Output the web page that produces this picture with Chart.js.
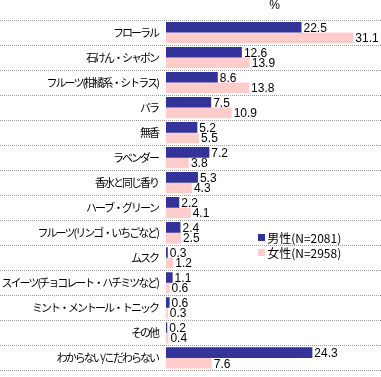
<!DOCTYPE html>
<html><head><meta charset="utf-8">
<script src="https://cdn.jsdelivr.net/npm/chart.js@4"></script>
<style>html,body{margin:0;padding:0;background:#fff}#wrap{width:381px;height:377px}</style>
</head><body><div id="wrap"><canvas id="c" width="381" height="377"></canvas></div>
<script>
const categories = ["フローラル","石けん・シャボン","フルーツ(柑橘系・シトラス)","バラ","無香","ラベンダー","香水と同じ香り","ハーブ・グリーン","フルーツ(リンゴ・いちごなど)","ムスク","スイーツ(チョコレート・ハチミツなど)","ミント・メントール・トニック","その他","わからない/こだわらない"];
const maleValues = [22.5,12.6,8.6,7.5,5.2,7.2,5.3,2.2,2.4,0.3,1.1,0.6,0.2,24.3];
const femaleValues = [31.1,13.9,13.8,10.9,5.5,3.8,4.3,4.1,2.5,1.2,0.6,0.3,0.4,7.6];
const seriesLabels = ["男性(N=2081)","女性(N=2958)"];
const unitLabel = "%";

const JP = '"Noto Sans CJK JP", sans-serif';

const spacingPlugin = {
  id: 'spacing',
  beforeDraw(chart){ chart.ctx.letterSpacing = '-2px'; },
  beforeDatasetsDraw(chart){ chart.ctx.letterSpacing = '0px'; }
};

const separatorPlugin = {
  id: 'separators',
  beforeDatasetsDraw(chart){
    const ctx = chart.ctx, y = chart.scales.y;
    ctx.save();
    ctx.strokeStyle = '#999999';
    ctx.lineWidth = 1;
    ctx.setLineDash([1,1]);
    for (let i = 0; i <= categories.length; i++) {
      const py = Math.round(y.getPixelForValue(i - 0.5)) + 0.5;
      ctx.beginPath(); ctx.moveTo(0, py); ctx.lineTo(chart.width, py); ctx.stroke();
    }
    ctx.restore();
  }
};

const valueLabelPlugin = {
  id: 'valueLabels',
  afterDatasetsDraw(chart){
    const ctx = chart.ctx;
    ctx.save();
    ctx.letterSpacing = '0px';
    ctx.font = '12px "Liberation Sans", Arial, sans-serif';
    ctx.fillStyle = '#000';
    ctx.textAlign = 'left';
    ctx.textBaseline = 'middle';
    chart.data.datasets.forEach((ds, di) => {
      const meta = chart.getDatasetMeta(di);
      meta.data.forEach((bar, i) => {
        ctx.fillText(ds.data[i].toFixed(1), bar.x + 2, bar.y + 1);
      });
    });
    ctx.restore();
  }
};

const legendPlugin = {
  id: 'customLegend',
  afterDraw(chart){
    const ctx = chart.ctx;
    const xs = chart.scales.x, ys = chart.scales.y;
    const lx = xs.getPixelForValue(15.3);
    const ly = ys.getPixelForValue(8.19);
    ctx.save();
    ctx.letterSpacing = '0px';
    ctx.font = '12px ' + JP;
    ctx.textBaseline = 'middle';
    ctx.textAlign = 'left';
    chart.data.datasets.forEach((ds, i) => {
      const y = Math.round(ly + i * 15);
      ctx.fillStyle = ds.backgroundColor;
      ctx.fillRect(Math.round(lx), y - 3, 7, 7);
      ctx.fillStyle = '#000';
      ctx.fillText(ds.label, lx + 9, y + 1);
    });
    ctx.restore();
  }
};

new Chart(document.getElementById('c'), {
  type: 'bar',
  data: {
    labels: categories,
    datasets: [
      {label: seriesLabels[0], data: maleValues, backgroundColor: '#333399', borderWidth: 0},
      {label: seriesLabels[1], data: femaleValues, backgroundColor: '#FFCCCC', borderWidth: 0}
    ]
  },
  options: {
    indexAxis: 'y',
    responsive: false,
    animation: false,
    devicePixelRatio: 1,
    layout: {padding: {left: 0, right: 0, top: 0, bottom: 1}},
    datasets: {bar: {categoryPercentage: 0.85, barPercentage: 1.0}},
    plugins: {legend: {display: false}, tooltip: {enabled: false}},
    scales: {
      x: {
        position: 'top', min: 0, max: 35.7,
        grid: {display: false}, border: {display: false},
        ticks: {display: false},
        title: {display: true, text: unitLabel, color: '#000', padding: 0,
                font: {size: 12, family: '"Liberation Sans", Arial, sans-serif', lineHeight: 1}}
      },
      y: {
        grid: {display: false}, border: {display: false},
        ticks: {color: '#000', padding: 0, autoSkip: false,
                font: {size: 11, family: JP}},
        afterFit(scale){ scale.width = 166; }
      }
    }
  },
  plugins: [spacingPlugin, separatorPlugin, valueLabelPlugin, legendPlugin]
});
</script>
</body></html>
